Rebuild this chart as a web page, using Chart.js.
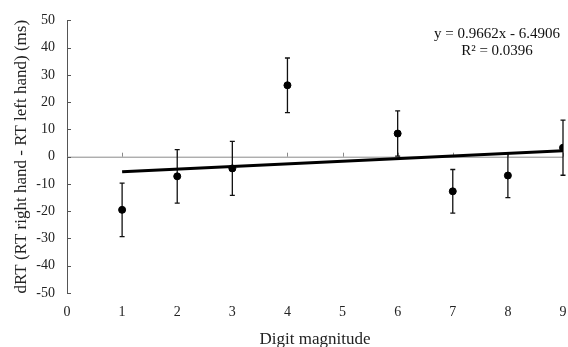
<!DOCTYPE html>
<html>
<head>
<meta charset="utf-8">
<script src="https://cdn.jsdelivr.net/npm/chart.js@4/dist/chart.umd.min.js"></script>
<style>
  html, body { margin: 0; padding: 0; background: #fff; }
  #wrap { width: 568px; height: 347px; }
</style>
</head>
<body>
<div id="wrap"><canvas id="myChart"></canvas></div>
<script>
// digit magnitude vs dRT (ms)
const digits = [1, 2, 3, 4, 6, 7, 8, 9];
const dRT = [-19.5, -7.2, -4.3, 26.2, 8.5, -12.7, -6.9, 3.3];
const errBars = [9.8, 9.8, 9.9, 10.0, 8.3, 8.0, 8.1, 10.1];
const slope = 0.9662;
const intercept = -6.4906;
const rSquared = 0.0396;
const yTicks = [-50, -40, -30, -20, -10, 0, 10, 20, 30, 40, 50];

const serif = "'Liberation Serif', 'DejaVu Serif', serif";

const points = digits.map((d, i) => ({ x: d, y: dRT[i] }));
const trend = [1, 9].map(x => ({ x: x, y: slope * x + intercept }));

// error bars, zero line, inner tick marks and the equation text
const extras = {
  id: 'extras',
  beforeDatasetsDraw(chart) {
    const { ctx, chartArea, scales: { x, y } } = chart;
    const y0 = y.getPixelForValue(0);
    ctx.save();
    // zero line
    ctx.strokeStyle = '#8a8a8a';
    ctx.lineWidth = 1;
    ctx.beginPath();
    ctx.moveTo(chartArea.left, y0 + 0.5);
    ctx.lineTo(chartArea.right, y0 + 0.5);
    ctx.stroke();
    // x ticks pointing up from zero line
    for (let v = 1; v <= 9; v++) {
      const px = Math.round(x.getPixelForValue(v)) + 0.5;
      ctx.beginPath();
      ctx.moveTo(px, y0);
      ctx.lineTo(px, y0 - 4);
      ctx.stroke();
    }
    // y ticks pointing in
    ctx.strokeStyle = '#555';
    yTicks.forEach(v => {
      const py = Math.round(y.getPixelForValue(v)) + 0.5;
      ctx.beginPath();
      ctx.moveTo(chartArea.left, py);
      ctx.lineTo(chartArea.left + 4, py);
      ctx.stroke();
    });
    // error bars
    ctx.strokeStyle = '#111';
    ctx.lineWidth = 1.3;
    digits.forEach((d, i) => {
      const px = x.getPixelForValue(d);
      const top = y.getPixelForValue(dRT[i] + errBars[i]);
      const bot = y.getPixelForValue(dRT[i] - errBars[i]);
      ctx.beginPath();
      ctx.moveTo(px, top);
      ctx.lineTo(px, bot);
      ctx.moveTo(px - 2.5, top);
      ctx.lineTo(px + 2.5, top);
      ctx.moveTo(px - 2.5, bot);
      ctx.lineTo(px + 2.5, bot);
      ctx.stroke();
    });
    ctx.restore();
  },
  afterDraw(chart) {
    const { ctx } = chart;
    ctx.save();
    ctx.fillStyle = '#111';
    ctx.font = '15px ' + serif;
    ctx.textAlign = 'center';
    ctx.textBaseline = 'middle';
    ctx.fillText('y = ' + slope + 'x - ' + Math.abs(intercept), 497, 34);
    ctx.fillText('R\u00B2 = ' + rSquared, 497, 51);
    ctx.restore();
  }
};

const ctx = document.getElementById('myChart');
new Chart(ctx, {
  type: 'scatter',
  data: {
    datasets: [{
      label: 'dRT',
      data: points,
      backgroundColor: '#000',
      borderColor: '#000',
      pointRadius: 3.5,
      order: 1
    }, {
      type: 'line',
      label: 'trend',
      data: trend,
      borderColor: '#000',
      borderWidth: 3,
      pointRadius: 0,
      fill: false,
      order: 2
    }]
  },
  options: {
    responsive: true,
    maintainAspectRatio: false,
    animation: false,
    layout: { padding: { top: 19, right: 0, bottom: 0, left: 0 } },
    plugins: {
      legend: { display: false },
      tooltip: { enabled: false }
    },
    scales: {
      x: {
        type: 'linear',
        min: 0,
        max: 9,
        grid: { display: false, drawTicks: false },
        border: { display: false },
        ticks: {
          stepSize: 1,
          padding: 11,
          color: '#222',
          font: { family: serif, size: 14 }
        },
        title: {
          display: true,
          text: 'Digit magnitude',
          color: '#222',
          font: { family: serif, size: 17 },
          padding: { top: 0, bottom: -3 }
        },
        afterFit: s => { s.height = 54; s.paddingRight = 3; }
      },
      y: {
        min: -50,
        max: 50,
        grid: { display: false, drawTicks: false },
        border: { display: true, color: '#555', width: 1 },
        ticks: {
          stepSize: 10,
          padding: 12,
          color: '#222',
          font: { family: serif, size: 14 }
        },
        title: {
          display: true,
          text: 'dRT (RT right hand - RT left hand) (ms)',
          color: '#222',
          font: { family: serif, size: 17 },
          padding: { top: 11, bottom: 0 }
        },
        afterFit: s => { s.width = 67; }
      }
    }
  },
  plugins: [extras]
});
</script>
</body>
</html>
